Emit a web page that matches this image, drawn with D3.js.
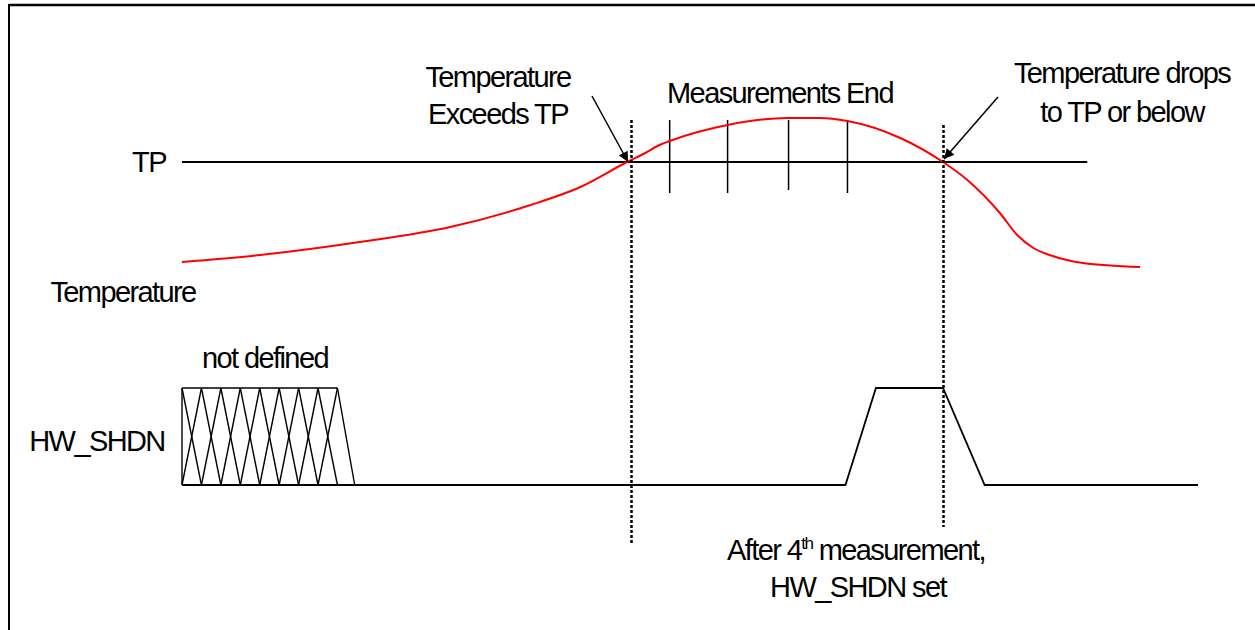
<!DOCTYPE html>
<html>
<head>
<meta charset="utf-8">
<script src="https://cdn.jsdelivr.net/npm/d3@7"></script>
<style>
  html, body { margin: 0; padding: 0; background: #fff; }
  svg text { font-family: "Liberation Sans", Arial, sans-serif; fill: #000; }
</style>
</head>
<body>
<script>
// ---- data (abstract time units 0..100, temperature in arbitrary units, TP = 100) ----
const TP = 100;
const tpRange = [0, 89.1];
const tempTime = [0, 7.7, 17.5, 26.4, 34.3, 39.2, 43.8, 45.6, 47.0, 48.0, 53.7, 59.6, 62.8, 65.5, 70.7, 74.9, 77.3, 80.5, 82.2, 83.8, 85.4, 87.1, 88.7, 94.3];
const tempValue = [50, 53.5, 60, 67.5, 78.5, 87.5, 100, 104.5, 108.5, 110.5, 118.5, 122, 122, 120.5, 112, 100, 91, 74.5, 63.5, 57, 53.5, 51, 49.5, 47.5];
const measureTimes = [48.0, 53.7, 59.7, 65.5];
const eventTimes = [44.2, 74.9];
const shdnTime = [15.3, 65.3, 68.3, 74.9, 79.0, 100];
const shdnLevel = [0, 0, 1, 1, 0, 0];
const undefinedStart = 0, undefinedEndTop = 15.3, undefinedEndBottom = 17.0, undefinedCells = 8;

const W = 1255, H = 630;
const svg = d3.select("body").append("svg").attr("width", W).attr("height", H);

const x = d3.scaleLinear().domain([0, 100]).range([182, 1198]);
const yT = d3.scaleLinear().domain([40, 125]).range([282, 112]);
const yS = d3.scaleLinear().domain([0, 1]).range([485, 388]);

// frame (top and left edges)
svg.append("line").attr("x1", 9).attr("x2", W).attr("y1", 5).attr("y2", 5).attr("stroke", "#000").attr("stroke-width", 2.5);
svg.append("line").attr("x1", 9).attr("x2", 9).attr("y1", 4).attr("y2", H).attr("stroke", "#000").attr("stroke-width", 2);

// arrow marker
svg.append("defs").append("marker")
  .attr("id", "ah").attr("viewBox", "0 0 10 10").attr("refX", 10).attr("refY", 5)
  .attr("markerWidth", 14).attr("markerHeight", 10).attr("markerUnits", "userSpaceOnUse")
  .attr("orient", "auto")
  .append("path").attr("d", "M0,0 L10,5 L0,10 Z").attr("fill", "#000");

// TP line
svg.append("line").attr("x1", x(tpRange[0])).attr("x2", x(tpRange[1]))
  .attr("y1", yT(TP)).attr("y2", yT(TP)).attr("stroke", "#000").attr("stroke-width", 2);

// measurement ticks
svg.selectAll(".meas").data(measureTimes).enter().append("line")
  .attr("x1", d => x(d)).attr("x2", d => x(d))
  .attr("y1", yT(TP) - 42).attr("y2", (d, i) => yT(TP) + (i === 2 ? 28 : 31))
  .attr("stroke", "#000").attr("stroke-width", 1.5);

// temperature curve
const tempData = tempTime.map((t, i) => [t, tempValue[i]]);
svg.append("path").datum(tempData)
  .attr("d", d3.line().x(d => x(d[0])).y(d => yT(d[1])).curve(d3.curveMonotoneX))
  .attr("fill", "none").attr("stroke", "#ff0000").attr("stroke-width", 2);

// event dotted lines
const evTop = [120, 125], evBot = [545, 527];
svg.selectAll(".ev").data(eventTimes).enter().append("line")
  .attr("x1", d => Math.round(x(d)) + 0.5).attr("x2", d => Math.round(x(d)) + 0.5)
  .attr("y1", (d, i) => evTop[i]).attr("y2", (d, i) => evBot[i])
  .attr("stroke", "#000").attr("stroke-width", 2.5).attr("stroke-dasharray", "3,2");

// arrows
svg.append("line").attr("x1", 592).attr("y1", 96).attr("x2", x(eventTimes[0]) - 3).attr("y2", yT(TP))
  .attr("stroke", "#000").attr("stroke-width", 1.5).attr("marker-end", "url(#ah)");
svg.append("line").attr("x1", 998).attr("y1", 97).attr("x2", x(eventTimes[1]) + 1).attr("y2", yT(TP) - 3)
  .attr("stroke", "#000").attr("stroke-width", 1.5).attr("marker-end", "url(#ah)");

// HW_SHDN signal
const shdnData = [[undefinedStart, 0]].concat(shdnTime.map((t, i) => [t, shdnLevel[i]]));
svg.append("path").datum(shdnData)
  .attr("d", d3.line().x(d => x(d[0])).y(d => yS(d[1])))
  .attr("fill", "none").attr("stroke", "#000").attr("stroke-width", 1.8);

// undefined hatched region
const cellW = (undefinedEndTop - undefinedStart) / undefinedCells;
const hatch = svg.append("g").attr("stroke", "#000").attr("stroke-width", 1.4).attr("fill", "none");
hatch.append("line").attr("x1", x(undefinedStart)).attr("x2", x(undefinedEndTop)).attr("y1", yS(1)).attr("y2", yS(1));
hatch.append("line").attr("x1", x(undefinedStart)).attr("x2", x(undefinedStart)).attr("y1", yS(1)).attr("y2", yS(0));
for (let i = 0; i < undefinedCells; i++) {
  const a = undefinedStart + i * cellW, b = a + cellW;
  hatch.append("line").attr("x1", x(a)).attr("y1", yS(1)).attr("x2", x(b)).attr("y2", yS(0));
  hatch.append("line").attr("x1", x(a)).attr("y1", yS(0)).attr("x2", x(b)).attr("y2", yS(1));
}
hatch.append("line").attr("x1", x(undefinedEndTop)).attr("y1", yS(1)).attr("x2", x(undefinedEndBottom)).attr("y2", yS(0));

// texts
const fs = 29, ls = "-1.6px";
function label(tx, ty, str, anchor) {
  return svg.append("text").attr("x", tx).attr("y", ty).attr("font-size", fs)
    .attr("letter-spacing", ls).attr("text-anchor", anchor || "middle").text(str);
}
label(498, 87, "Temperature");
label(498, 124, "Exceeds TP");
label(780, 103, "Measurements End");
label(1122, 83, "Temperature drops");
label(1122, 122, "to TP or below");
label(149, 172, "TP");
label(123, 302, "Temperature");
label(265, 368, "not defined");
label(97, 451, "HW_SHDN");
const after = svg.append("text").attr("x", 856).attr("y", 560).attr("font-size", fs)
  .attr("letter-spacing", ls).attr("text-anchor", "middle");
after.append("tspan").text("After 4");
after.append("tspan").attr("font-size", 17).attr("dy", -11).text("th");
after.append("tspan").attr("dy", 11).text(" measurement,");
label(858, 597, "HW_SHDN set");
</script>
</body>
</html>
